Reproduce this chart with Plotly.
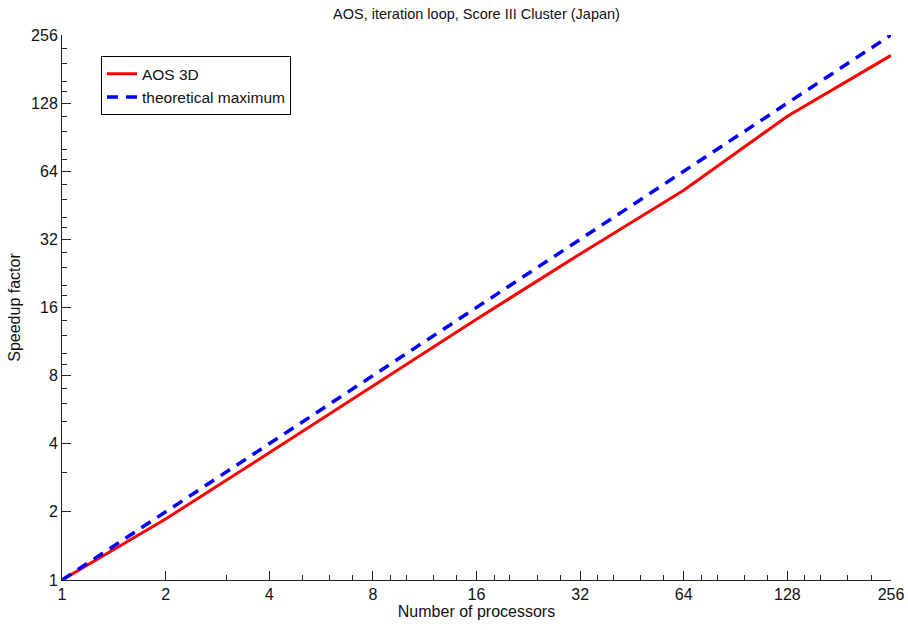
import math
import plotly.graph_objects as go

processors = [1, 2, 4, 8, 16, 32, 64, 128, 256]
aos_speedup = [1, 1.86, 3.65, 7.2, 14.2, 27.6, 52.7, 112, 208]
theoretical = [1, 2, 4, 8, 16, 32, 64, 128, 256]
tick_vals = [1, 2, 4, 8, 16, 32, 64, 128, 256]
tick_text = ["1", "2", "4", "8", "16", "32", "64", "128", "256"]
minor_vals = [3, 5, 6, 7, 9, 10, 12, 14, 18, 20, 24, 28, 36, 40, 48, 56,
              72, 80, 96, 112, 144, 160, 192, 224]

FONT = "Liberation Sans, Arial, sans-serif"
W, H = 908, 630

fig = go.Figure()
fig.add_trace(go.Scatter(x=processors, y=aos_speedup, mode="lines", name="AOS 3D",
                         line=dict(color="#ff0000", width=3)))
fig.add_trace(go.Scatter(x=processors, y=theoretical, mode="lines", name="theoretical maximum",
                         line=dict(color="#0000ff", width=3.5, dash="11px,8px")))

axis_common = dict(
    type="log",
    range=[0, math.log10(256)],
    tickmode="array",
    tickvals=tick_vals,
    ticktext=tick_text,
    ticks="inside",
    ticklen=9,
    tickwidth=1,
    tickcolor="#222",
    showline=True,
    linecolor="#222",
    linewidth=1,
    showgrid=False,
    zeroline=False,
    automargin=False,
    tickfont=dict(family=FONT, size=16, color="#111"),
    minor=dict(tickmode="array", tickvals=minor_vals, ticks="inside", ticklen=5,
               tickwidth=1, tickcolor="#222", showgrid=False),
)

L, R, T, B = 62, 17, 35, 50

fig.update_layout(
    width=W, height=H,
    margin=dict(l=L, r=R, t=T, b=B),
    paper_bgcolor="white", plot_bgcolor="white",
    title=dict(text="AOS, iteration loop, Score III Cluster (Japan)",
               x=(L + (W - R)) / 2 / W, xanchor="center", y=1 - 14 / H, yanchor="middle",
               font=dict(family=FONT, size=14.5, color="#111"), automargin=False),
    xaxis=dict(axis_common, title=dict(text="Number of processors", standoff=2,
                                       font=dict(family=FONT, size=16, color="#111"))),
    yaxis=dict(axis_common, title=dict(text="Speedup factor", standoff=6,
                                       font=dict(family=FONT, size=16, color="#111"))),
    legend=dict(x=0.047, y=0.961, xanchor="left", yanchor="top",
                bgcolor="white", bordercolor="#000", borderwidth=1,
                font=dict(family=FONT, size=15.5, color="#111"),
                itemwidth=30, tracegroupgap=0),
    showlegend=True,
)

fig.write_html(
    "out.html",
    config={"displayModeBar": False},
    post_script="document.body.style.margin='0';document.body.style.overflow='hidden';",
)
